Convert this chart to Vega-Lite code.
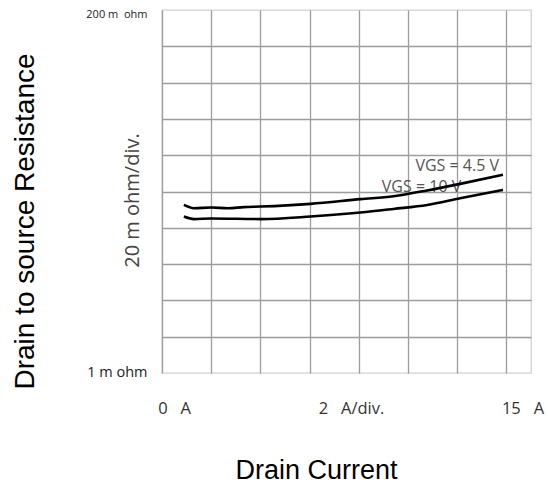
{
  "$schema": "https://vega.github.io/schema/vega-lite/v6.json",
  "width": 369,
  "height": 363,
  "autosize": {"type": "none"},
  "padding": {"left": 162, "top": 10, "right": 17, "bottom": 112},
  "background": "white",
  "config": {"view": {"stroke": "#d2d2d2", "strokeWidth": 1.3}},
  "title": {
    "text": "Drain to source Resistance",
    "orient": "left",
    "anchor": "middle",
    "font": "Liberation Sans",
    "fontSize": 28,
    "fontWeight": "normal",
    "color": "#000000",
    "offset": 46,
    "dx": -30
  },
  "datasets": {
    "curves": [
      {"id": 0.89, "r": 92.6, "vgs": "4.5 V"},
      {"id": 1.3, "r": 90.8, "vgs": "4.5 V"},
      {"id": 2.0, "r": 91.2, "vgs": "4.5 V"},
      {"id": 2.68, "r": 90.8, "vgs": "4.5 V"},
      {"id": 3.32, "r": 91.4, "vgs": "4.5 V"},
      {"id": 4.01, "r": 91.7, "vgs": "4.5 V"},
      {"id": 6.04, "r": 93.2, "vgs": "4.5 V"},
      {"id": 8.07, "r": 95.8, "vgs": "4.5 V"},
      {"id": 9.41, "r": 97.4, "vgs": "4.5 V"},
      {"id": 10.78, "r": 100.6, "vgs": "4.5 V"},
      {"id": 12.12, "r": 104.2, "vgs": "4.5 V"},
      {"id": 13.86, "r": 109.2, "vgs": "4.5 V"},
      {"id": 0.89, "r": 86.2, "vgs": "10 V"},
      {"id": 1.3, "r": 84.8, "vgs": "10 V"},
      {"id": 2.0, "r": 85.1, "vgs": "10 V"},
      {"id": 4.01, "r": 84.8, "vgs": "10 V"},
      {"id": 6.04, "r": 86.2, "vgs": "10 V"},
      {"id": 8.07, "r": 88.4, "vgs": "10 V"},
      {"id": 9.41, "r": 90.4, "vgs": "10 V"},
      {"id": 10.78, "r": 92.6, "vgs": "10 V"},
      {"id": 12.12, "r": 96.3, "vgs": "10 V"},
      {"id": 13.86, "r": 100.9, "vgs": "10 V"}
    ],
    "labels": [
      {"id": 12.0, "r": 114.1, "text": "VGS = 4.5 V"},
      {"id": 10.55, "r": 102.6, "text": "VGS = 10 V"}
    ]
  },
  "layer": [
    {
      "data": {"name": "labels"},
      "mark": {"type": "text", "font": "Open Sans", "fontSize": 16, "color": "#555555", "align": "center", "baseline": "middle"},
      "encoding": {
        "x": {"field": "id", "type": "quantitative", "scale": {"domain": [0, 15], "nice": false, "zero": false},
          "axis": {
            "values": [0, 2, 4, 6, 7.5, 8, 10, 12, 14, 15],
            "tickCount": 40,
            "grid": true,
            "gridColor": "#9c9c9c",
            "gridWidth": 1.3,
            "gridOpacity": {"condition": {"test": "datum.value == 7.5 || datum.value == 15", "value": 0}, "value": 1},
            "ticks": false,
            "domain": false,
            "labelExpr": "datum.value == 0 ? '0\u00a0\u00a0\u00a0A' : datum.value == 7.5 ? '2\u00a0\u00a0\u00a0A/div.' : datum.value == 15 ? '15\u00a0\u00a0\u00a0A' : ''",
            "labelOffset": {"condition": [{"test": "datum.value == 0", "value": 12}, {"test": "datum.value == 15", "value": -8.5}], "value": 4.5},
            "labelFont": "Open Sans",
            "labelFontSize": 16.5,
            "labelColor": "#333333",
            "labelPadding": 40.5,
            "labelBaseline": "alphabetic",
            "labelAlign": "center",
            "labelFlush": false,
            "labelOverlap": false,
            "title": "Drain Current",
            "titleFont": "Liberation Sans",
            "titleFontSize": 27,
            "titleFontWeight": "normal",
            "titleColor": "#000000",
            "titleX": 154,
            "titleY": 97,
            "titleBaseline": "middle"
          }},
        "y": {"field": "r", "type": "quantitative", "scale": {"domain": [0, 200], "nice": false},
          "axis": {
            "values": [0, 20, 40, 60, 80, 100, 120, 140, 160, 180, 200],
            "tickCount": 40,
            "grid": true,
            "gridColor": "#9c9c9c",
            "gridWidth": 1.3,
            "gridOpacity": {"condition": {"test": "datum.value == 0 || datum.value == 200", "value": 0}, "value": 1},
            "ticks": false,
            "domain": false,
            "labelExpr": "datum.value == 200 ? '200 m\u00a0\u00a0ohm' : datum.value == 0 ? '1 m\u00a0ohm' : ''",
            "labelFont": "Open Sans",
            "labelFontSize": {"condition": {"test": "datum.value == 200", "value": 11}, "value": 14.5},
            "labelOffset": {"condition": {"test": "datum.value == 200", "value": 7.7}, "value": 3.7},
            "labelBaseline": "alphabetic",
            "labelColor": "#222222",
            "labelPadding": 15,
            "labelFlush": false,
            "labelOverlap": false,
            "title": "20 m ohm/div.",
            "titleFont": "Open Sans",
            "titleFontSize": 20,
            "titleFontWeight": "normal",
            "titleColor": "#444444",
            "titleX": -30,
            "titleY": 190,
            "titleBaseline": "middle",
            "titleAlign": "center"
          }},
        "text": {"field": "text", "type": "nominal"}
      }
    },
    {
      "data": {"name": "curves"},
      "mark": {"type": "line", "color": "#000000", "strokeWidth": 2.6, "interpolate": "monotone"},
      "encoding": {
        "x": {"field": "id", "type": "quantitative"},
        "y": {"field": "r", "type": "quantitative"},
        "detail": {"field": "vgs", "type": "nominal"}
      }
    }
  ]
}
